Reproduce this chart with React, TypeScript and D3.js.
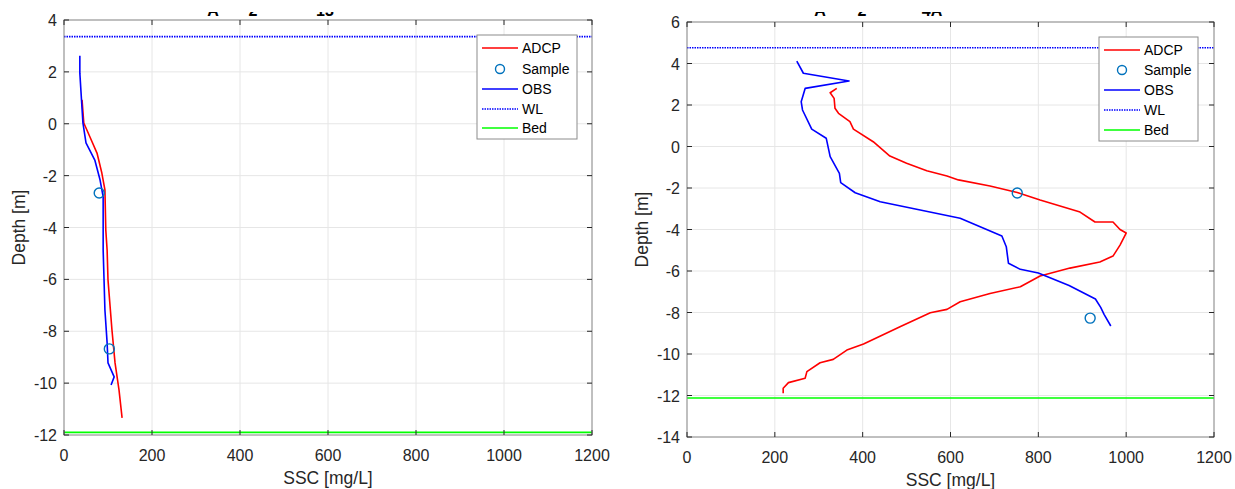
import React from "react";
import * as d3 from "d3";

// ---- Data (left panel) ----
const leftAdcpSsc = [41, 45, 59, 75, 86, 93, 95, 98, 100, 109, 116, 125, 132];
const leftAdcpDepth = [0.92, 0.03, -0.51, -1.13, -1.9, -2.55, -4.1, -4.87, -6.02, -7.95, -9.22, -10.26, -11.34];
const leftObsSsc = [36, 36, 43, 50, 70, 82, 89, 89, 91, 93, 98, 100, 114, 107];
const leftObsDepth = [2.62, 1.95, 0.03, -0.74, -1.4, -2.17, -2.82, -4.87, -6.02, -7.18, -8.45, -9.22, -9.76, -10.07];
const leftSampleSsc = [80, 103];
const leftSampleDepth = [-2.67, -8.68];
const leftWL = 3.36;
const leftBed = -11.9;

// ---- Data (right panel) ----
const rightAdcpSsc = [341, 326, 335, 337, 345, 371, 379, 424, 462, 500, 546, 592, 618, 690, 752, 804, 895, 929, 970, 986, 1000, 986, 970, 940, 872, 804, 759, 690, 622, 592, 554, 485, 402, 364, 333, 303, 273, 269, 231, 219, 219];
const rightAdcpDepth = [2.8, 2.59, 2.32, 1.84, 1.6, 1.2, 0.84, 0.23, -0.46, -0.81, -1.17, -1.42, -1.61, -1.9, -2.22, -2.58, -3.16, -3.64, -3.64, -4.0, -4.17, -4.75, -5.28, -5.57, -5.86, -6.24, -6.76, -7.08, -7.48, -7.85, -8.01, -8.69, -9.52, -9.81, -10.26, -10.42, -10.85, -11.17, -11.38, -11.65, -11.89];
const rightObsSsc = [250, 265, 369, 269, 260, 263, 284, 317, 326, 347, 350, 383, 440, 531, 622, 717, 727, 732, 759, 800, 870, 930, 942, 950, 965];
const rightObsDepth = [4.12, 3.53, 3.16, 2.8, 2.16, 1.76, 0.84, 0.4, -0.49, -1.29, -1.74, -2.23, -2.66, -3.06, -3.46, -4.31, -4.83, -5.63, -5.92, -6.1, -6.7, -7.35, -7.75, -8.1, -8.65];
const rightSampleSsc = [752, 918];
const rightSampleDepth = [-2.24, -8.27];
const rightWL = 4.76;
const rightBed = -12.12;

const xTicks = [0, 200, 400, 600, 800, 1000, 1200];
const leftYTicks = [-12, -10, -8, -6, -4, -2, 0, 2, 4];
const rightYTicks = [-14, -12, -10, -8, -6, -4, -2, 0, 2, 4, 6];
const legendLabels = ["ADCP", "Sample", "OBS", "WL", "Bed"];
const leftTitleBits = ["A", "2", "13"];
const rightTitleBits = ["A", "2", "4A"];

const FONT = "'Liberation Sans', Arial, Helvetica, sans-serif";

type PanelProps = {
  x0: number; x1: number; y0: number; y1: number;
  yDomain: [number, number];
  yTicks: number[];
  adcpSsc: number[]; adcpDepth: number[];
  obsSsc: number[]; obsDepth: number[];
  sampleSsc: number[]; sampleDepth: number[];
  wl: number; bed: number;
  legend: { x: number; y: number; w: number; h: number; rows: number[] };
  ylabelX: number;
  titleBits: string[]; titleX: number[];
  id: string;
};

function Panel(p: PanelProps) {
  const xs = d3.scaleLinear().domain([0, 1200]).range([p.x0, p.x1]);
  const ys = d3.scaleLinear().domain(p.yDomain).range([p.y1, p.y0]);
  const line = d3.line<[number, number]>().x(d => xs(d[0])).y(d => ys(d[1]));
  const adcp = line(p.adcpSsc.map((s, i) => [s, p.adcpDepth[i]]) as [number, number][]) || "";
  const obs = line(p.obsSsc.map((s, i) => [s, p.obsDepth[i]]) as [number, number][]) || "";
  const axisColor = "#262626";
  const tl = 5;
  const lg = p.legend;
  return (
    <g>
      <defs>
        <clipPath id={"clip" + p.id}>
          <rect x={p.x0} y={p.y0} width={p.x1 - p.x0} height={p.y1 - p.y0} />
        </clipPath>
        <clipPath id={"tclip" + p.id}>
          <rect x={p.x0} y={12} width={p.x1 - p.x0} height={10} />
        </clipPath>
      </defs>
      <rect x={p.x0} y={p.y0} width={p.x1 - p.x0} height={p.y1 - p.y0} fill="#fff" />
      {xTicks.map(t => (
        <line key={"gx" + t} x1={xs(t)} x2={xs(t)} y1={p.y0} y2={p.y1} stroke="#e6e6e6" strokeWidth={1} />
      ))}
      {p.yTicks.map(t => (
        <line key={"gy" + t} x1={p.x0} x2={p.x1} y1={ys(t)} y2={ys(t)} stroke="#e6e6e6" strokeWidth={1} />
      ))}
      <g clipPath={`url(#clip${p.id})`}>
        <line x1={p.x0} x2={p.x1} y1={ys(p.wl)} y2={ys(p.wl)} stroke="#0000ff" strokeWidth={1.6} strokeDasharray="1.5 1" />
        <line x1={p.x0} x2={p.x1} y1={ys(p.bed)} y2={ys(p.bed)} stroke="#00ff00" strokeWidth={1.6} />
        <path d={adcp} fill="none" stroke="#ff0000" strokeWidth={1.6} strokeLinejoin="round" />
        <path d={obs} fill="none" stroke="#0000ff" strokeWidth={1.6} strokeLinejoin="round" />
        {p.sampleSsc.map((s, i) => (
          <circle key={"s" + i} cx={xs(s)} cy={ys(p.sampleDepth[i])} r={5} fill="none" stroke="#0072BD" strokeWidth={1.4} />
        ))}
      </g>
      <rect x={p.x0} y={p.y0} width={p.x1 - p.x0} height={p.y1 - p.y0} fill="none" stroke="#8c8c8c" strokeWidth={1} />
      {xTicks.map(t => (
        <g key={"xt" + t}>
          <line x1={xs(t)} x2={xs(t)} y1={p.y1} y2={p.y1 - tl} stroke={axisColor} />
          <line x1={xs(t)} x2={xs(t)} y1={p.y0} y2={p.y0 + tl} stroke={axisColor} />
          <text x={xs(t)} y={p.y1 + 26} textAnchor="middle" fontSize={16} fill={axisColor} fontFamily={FONT}>{t}</text>
        </g>
      ))}
      {p.yTicks.map(t => (
        <g key={"yt" + t}>
          <line x1={p.x0} x2={p.x0 + tl} y1={ys(t)} y2={ys(t)} stroke={axisColor} />
          <line x1={p.x1} x2={p.x1 - tl} y1={ys(t)} y2={ys(t)} stroke={axisColor} />
          <text x={p.x0 - 7} y={ys(t) + 6} textAnchor="end" fontSize={16} fill={axisColor} fontFamily={FONT}>{t}</text>
        </g>
      ))}
      <text x={(p.x0 + p.x1) / 2} y={p.y1 + 49} textAnchor="middle" fontSize={17.5} fill={axisColor} fontFamily={FONT}>SSC [mg/L]</text>
      <text transform={`translate(${p.ylabelX},${(p.y0 + p.y1) / 2}) rotate(-90)`} textAnchor="middle" fontSize={17.5} fill={axisColor} fontFamily={FONT}>Depth [m]</text>
      <g clipPath={`url(#tclip${p.id})`}>
        {p.titleBits.map((b, i) => (
          <text key={"tb" + i} x={p.titleX[i]} y={16} textAnchor="middle" fontSize={16} fontWeight="bold" fill="#000" fontFamily={FONT}>{b}</text>
        ))}
      </g>
      <rect x={lg.x} y={lg.y} width={lg.w} height={lg.h} fill="#fff" stroke="#8c8c8c" strokeWidth={1} />
      {legendLabels.map((lab, i) => {
        const yy = lg.rows[i];
        const lx0 = lg.x + 5, lx1 = lg.x + 41;
        let sym: React.ReactNode = null;
        if (lab === "ADCP") sym = <line x1={lx0} x2={lx1} y1={yy} y2={yy} stroke="#ff0000" strokeWidth={1.5} />;
        if (lab === "Sample") sym = <circle cx={(lx0 + lx1) / 2} cy={yy} r={4.5} fill="none" stroke="#0072BD" strokeWidth={1.4} />;
        if (lab === "OBS") sym = <line x1={lx0} x2={lx1} y1={yy} y2={yy} stroke="#0000ff" strokeWidth={1.5} />;
        if (lab === "WL") sym = <line x1={lx0} x2={lx1} y1={yy} y2={yy} stroke="#0000ff" strokeWidth={1.5} strokeDasharray="1.5 1" />;
        if (lab === "Bed") sym = <line x1={lx0} x2={lx1} y1={yy} y2={yy} stroke="#00ff00" strokeWidth={1.5} />;
        return (
          <g key={lab}>
            {sym}
            <text x={lg.x + 45} y={yy + 5} fontSize={14} fill="#000" fontFamily={FONT}>{lab}</text>
          </g>
        );
      })}
    </g>
  );
}

export default function App() {
  return (
    <svg width={1235} height={489} style={{ position: "absolute", left: 0, top: 0, background: "#fff" }}>
      <rect x={0} y={0} width={1235} height={489} fill="#fff" />
      <Panel
        id="L"
        x0={64} x1={592} y0={20} y1={435}
        yDomain={[-12, 4]} yTicks={leftYTicks}
        adcpSsc={leftAdcpSsc} adcpDepth={leftAdcpDepth}
        obsSsc={leftObsSsc} obsDepth={leftObsDepth}
        sampleSsc={leftSampleSsc} sampleDepth={leftSampleDepth}
        wl={leftWL} bed={leftBed}
        legend={{ x: 477, y: 35, w: 100, h: 104, rows: [48, 69, 89, 109, 128] }}
        ylabelX={25}
        titleBits={leftTitleBits} titleX={[213, 253, 325]}
      />
      <Panel
        id="R"
        x0={687} x1={1214} y0={22} y1={437}
        yDomain={[-14, 6]} yTicks={rightYTicks}
        adcpSsc={rightAdcpSsc} adcpDepth={rightAdcpDepth}
        obsSsc={rightObsSsc} obsDepth={rightObsDepth}
        sampleSsc={rightSampleSsc} sampleDepth={rightSampleDepth}
        wl={rightWL} bed={rightBed}
        legend={{ x: 1099, y: 37, w: 99, h: 104, rows: [50, 70, 90, 110, 130] }}
        ylabelX={648}
        titleBits={rightTitleBits} titleX={[820, 862, 932]}
      />
    </svg>
  );
}
